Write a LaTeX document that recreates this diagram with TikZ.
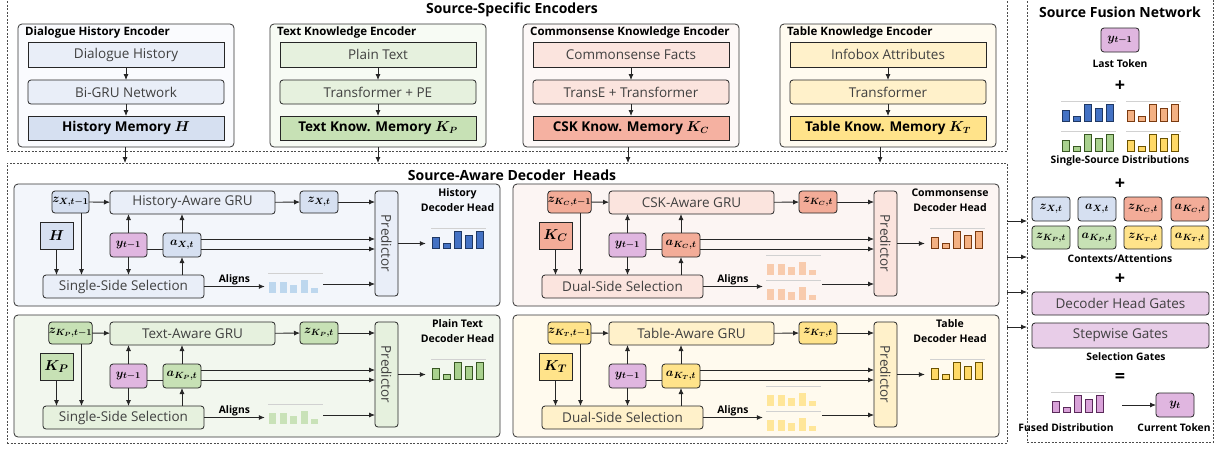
\documentclass[tikz,border=0pt]{standalone}
\usepackage{fontspec}
\setmainfont{Open Sans}
\usepackage{bm}
\usetikzlibrary{arrows.meta,calc}

% colour sets per source: Enc (encoder frame), Box, Mem, Z, Panel, Bar, Edge, Align
\definecolor{histEnc}{HTML}{FAFBFE}\definecolor{histBox}{HTML}{E9EEF8}
\definecolor{histMem}{HTML}{D6E0F1}\definecolor{histZ}{HTML}{D6E0F1}
\definecolor{histPanel}{HTML}{F3F6FB}\definecolor{histBar}{HTML}{4472C4}
\definecolor{histEdge}{HTML}{1F3864}\definecolor{histAlign}{HTML}{BDD7EE}
\definecolor{textEnc}{HTML}{F7FBF4}\definecolor{textBox}{HTML}{E6F1DE}
\definecolor{textMem}{HTML}{C7E1B5}\definecolor{textZ}{HTML}{C7E1B5}
\definecolor{textPanel}{HTML}{F2F7EE}\definecolor{textBar}{HTML}{A9D18E}
\definecolor{textEdge}{HTML}{385723}\definecolor{textAlign}{HTML}{C9E2B8}
\definecolor{cskEnc}{HTML}{FDF8F7}\definecolor{cskBox}{HTML}{FBE4DE}
\definecolor{cskMem}{HTML}{F5B1A1}\definecolor{cskZ}{HTML}{F3AC98}
\definecolor{cskPanel}{HTML}{FCF5F3}\definecolor{cskBar}{HTML}{F4B183}
\definecolor{cskEdge}{HTML}{7A3A10}\definecolor{cskAlign}{HTML}{F8CBAD}
\definecolor{tabEnc}{HTML}{FFFBF0}\definecolor{tabBox}{HTML}{FFF1CA}
\definecolor{tabMem}{HTML}{FFE38A}\definecolor{tabZ}{HTML}{FFE38A}
\definecolor{tabPanel}{HTML}{FFFAEE}\definecolor{tabBar}{HTML}{FFD966}
\definecolor{tabEdge}{HTML}{6B5200}\definecolor{tabAlign}{HTML}{FFE699}
\definecolor{ypurple}{HTML}{E0B6E0}\definecolor{gatefill}{HTML}{E8CDE8}
\definecolor{fusedBar}{HTML}{D9A2D9}\definecolor{fusedEdge}{HTML}{5A2A5A}
\definecolor{softtext}{HTML}{404040}

\tikzset{
  arr/.style={-{Latex[length=6pt,width=5pt]}, line width=0.8pt, draw=black!85},
  plainline/.style={line width=0.8pt, draw=black!85},
  bx/.style={draw=black!85, line width=0.8pt, inner sep=0pt, outer sep=0pt,
    font=\fontsize{13.5}{15}\selectfont, text=softtext},
  rbx/.style={bx, rounded corners=3pt},
  panelbox/.style={draw=black!80, line width=0.8pt, rounded corners=4pt, inner sep=0pt, outer sep=0pt},
  dashpanel/.style={draw=black!70, line width=0.7pt, dash pattern=on 2pt off 1.5pt, inner sep=0pt, outer sep=0pt},
  boxtext/.style={font=\fontsize{13.5}{15}\selectfont, text=softtext, inner sep=0pt},
  bigtitle/.style={font=\bfseries\fontsize{14}{16}\selectfont, inner sep=0pt},
  enctitle/.style={font=\bfseries\fontsize{11.5}{13}\selectfont, inner sep=0pt},
  headlabel/.style={font=\bfseries\fontsize{10.5}{14.5}\selectfont, align=center, inner sep=0pt},
  smalllabel/.style={font=\bfseries\fontsize{10.3}{12}\selectfont, inner sep=0pt},
  plus/.style={font=\bfseries\fontsize{18}{19}\selectfont, inner sep=0pt},
  gridline/.style={draw=black!18, line width=0.8pt},
}

% box given by its corners: style, name, x1, y1, x2, y2, text
\newcommand{\cbox}[7]{\node[#1, minimum width={(#5)-(#3)}, minimum height={(#6)-(#4)}]
  (#2) at ({((#3)+(#5))/2},{((#4)+(#6))/2}) {#7};}
\newcommand{\mathlbl}[1]{{\fontsize{12.5}{13}\selectfont$\bm{#1}$}}
\newcommand{\memlbl}[1]{{\fontsize{13.5}{14}\selectfont$\bm{#1}$}}
\newcommand{\biglbl}[1]{{\fontsize{15}{16}\selectfont$\bm{#1}$}}

% five-bar distribution with border: x0, ybottom, fill, edge
\newcommand{\distbars}[4]{%
  \draw[gridline] ({#1-1},{#2-20}) -- ({#1+54},{#2-20});
  \foreach \h [count=\i from 0] in {11,5,17,13,17}
    \filldraw[fill=#3, draw=#4, line width=0.7pt] ({#1+\i*11},#2) rectangle ++(7,-\h);}
% alignment bars without border: x0, ybottom, fill
\newcommand{\alignbars}[3]{%
  \draw[gridline] ({#1-1},{#2-20}) -- ({#1+54},{#2-20});
  \foreach \h [count=\i from 0] in {11,11,8,13,5}
    \fill[#3] ({#1+\i*10.5},#2) rectangle ++(7,-\h);}

% encoder: name, centre x, colour key, title, input, network, memory, exit shift
\newcommand{\encoder}[8]{%
\begin{scope}[shift={(#2,0)}]
  \cbox{panelbox, fill=#3Enc}{#1}{-108}{24}{108}{147}{}
  \node[enctitle, anchor=west] (#1title) at (-101,33) {#4};
  \cbox{bx, fill=#3Box}{#1in}{-98}{42}{98}{67}{#5}
  \cbox{rbx, fill=#3Box}{#1net}{-98}{80}{98}{104}{#6}
  \cbox{bx, fill=#3Mem, text=black, font=\bfseries\fontsize{13.5}{15}\selectfont}{#1mem}{-98}{116}{98}{140}{#7}
  \draw[arr] (#1in) -- (#1net);
  \draw[arr] (#1net) -- (#1mem);
  \draw[arr] ([xshift=#8pt]#1.south) -- ([xshift=#8pt]#1.south |- decpanel.north);
\end{scope}}

% decoder head: prefix, dx, dy, colour key, subscript, GRU text, selection text, memory symbol
\newcommand{\dechead}[8]{%
\begin{scope}[shift={(#2,#3)}]
  \cbox{panelbox, fill=#4Panel}{#1panel}{14}{184}{500}{306}{}
  \cbox{rbx, fill=#4Z, text=black}{#1zp}{52}{191}{89}{213}{\mathlbl{z_{#5,t-1}}}
  \cbox{rbx, fill=#4Box}{#1gru}{110}{191}{275}{214}{#6}
  \cbox{rbx, fill=#4Z, text=black}{#1zc}{300}{191}{338}{213}{\mathlbl{z_{#5,t}}}
  \cbox{rbx, fill=#4Box}{#1pred}{375}{191}{398}{296}{}
  \node[boxtext, rotate=-90] (#1predtext) at (#1pred) {Predictor};
  \cbox{bx, fill=#4Z, text=black}{#1kn}{40}{222}{73}{249}{\biglbl{#8}}
  \cbox{rbx, fill=ypurple, text=black}{#1y}{110}{233}{147}{257}{\mathlbl{y_{t-1}}}
  \cbox{rbx, fill=#4Z, text=black}{#1a}{163}{233}{201}{257}{\mathlbl{a_{#5,t}}}
  \cbox{rbx, fill=#4Box}{#1sel}{43}{275}{204}{298}{#7}
  \node[inner sep=0pt, minimum width=58, minimum height=22] (#1dist) at (455,238) {};
  \distbars{432}{248}{#4Bar}{#4Edge}
  \draw[arr] (#1zp) -- (#1gru);
  \draw[arr] (#1gru) -- (#1zc);
  \draw[arr] (#1zc.east) -- (#1zc.east -| #1pred.west);
  \draw[arr] (#1y.north) -- (#1y.north |- #1gru.south);
  \draw[arr] (#1a.north) -- (#1a.north |- #1gru.south);
  \draw[arr] (#1y.south) -- (#1y.south |- #1sel.north);
  \draw[arr] (#1a.south |- #1sel.north) -- (#1a.south);
  \draw[arr] (#1kn.south) -- (#1kn.south |- #1sel.north);
  \draw[arr] (#1zp.-45) -- (#1zp.-45 |- #1sel.north);
  \draw[plainline] ([yshift=-4pt]#1y.east) -- ([yshift=-4pt]#1y.east -| #1a.west);
  \draw[arr] ([yshift=-4pt]#1a.east) -- ([yshift=-4pt]#1a.east -| #1pred.west);
  \draw[arr] ([yshift=6pt]#1a.east) -- ([yshift=6pt]#1a.east -| #1pred.west);
  \draw[arr] (#1pred.east) -- (#1pred.east -| #1dist.west);
\end{scope}}

\begin{document}
\begin{tikzpicture}[x=1pt, y=-1pt]
  \useasboundingbox (0,0) rectangle (1223,448);
  \fill[white] (0,0) rectangle (1223,448);

  % dashed group frames
  \cbox{dashpanel}{encpanel}{7}{-2}{1007}{151}{}
  \cbox{dashpanel}{decpanel}{7}{163}{1007}{443}{}
  \cbox{dashpanel}{fusion}{1027}{-2}{1213}{442}{}
  \node[bigtitle] (enctitle) at (512,10) {Source-Specific Encoders};
  \node[bigtitle] (dectitle) at (512,175) {Source-Aware Decoder\ \ Heads};
  \node[bigtitle] (fustitle) at (1120,12) {Source Fusion Network};

  % encoders
  \encoder{ench}{126}{hist}{Dialogue History Encoder}{Dialogue History}{Bi-GRU Network}{History Memory \memlbl{H}}{-1}
  \encoder{encp}{378}{text}{Text Knowledge Encoder}{Plain Text}{Transformer + PE}{Text Know. Memory \memlbl{K_P}}{0}
  \encoder{encc}{631}{csk}{Commonsense Knowledge Encoder}{Commonsense Facts}{TransE + Transformer}{CSK Know. Memory \memlbl{K_C}}{-3}
  \encoder{enct}{888}{tab}{Table Knowledge Encoder}{Infobox Attributes}{Transformer}{Table Know. Memory \memlbl{K_T}}{-8}

  % decoder heads
  \dechead{h}{0}{0}{hist}{X}{History-Aware GRU}{Single-Side Selection}{H}
  \dechead{c}{499}{0}{csk}{K_C}{CSK-Aware GRU}{Dual-Side Selection}{K_C}
  \dechead{p}{0}{131}{text}{K_P}{Text-Aware GRU}{Single-Side Selection}{K_P}
  \dechead{t}{499}{131}{tab}{K_T}{Table-Aware GRU}{Dual-Side Selection}{K_T}
  \node[headlabel] (hlab) at (457.5,200) {History\\Decoder Head};
  \node[headlabel] (clab) at (950,200) {Commonsense\\Decoder Head};
  \node[headlabel] (plab) at (457.5,331) {Plain Text\\Decoder Head};
  \node[headlabel] (tlab) at (950,331) {Table\\Decoder Head};

  % alignment distributions: single-side heads
  \foreach \pre/\dy/\key in {h/0/hist, p/131/text}{
    \begin{scope}[shift={(0,\dy)}]
      \node[inner sep=0pt, minimum width=58, minimum height=22] (\pre al) at (294,284) {};
      \alignbars{269}{293}{\key Align}
      \draw[arr] (\pre sel.east) -- node[above=1pt, smalllabel] (\pre altext) {Aligns} (\pre sel.east -| \pre al.west);
      \draw[arr] (\pre al.east) -- (\pre al.east -| \pre pred.west);
    \end{scope}}
  % alignment distributions: dual-side heads
  \foreach \pre/\dy/\key in {c/0/csk, t/131/tab}{
    \begin{scope}[shift={(0,\dy)}]
      \node[inner sep=0pt, minimum width=59, minimum height=40] (\pre al) at (792.5,284) {};
      \alignbars{767}{275}{\key Align}
      \alignbars{767}{300}{\key Align}
      \draw[arr] (\pre sel.east) -- node[above=1pt, smalllabel] (\pre altext) {Aligns} (\pre sel.east -| \pre al.west);
      \draw[arr] (\pre al.east) -- (\pre al.east -| \pre pred.west);
    \end{scope}}

  % hand-over to the fusion network
  \foreach \yy in {221,257,292,327}
    \draw[arr] (decpanel.east |- 0,\yy) -- (fusion.west |- 0,\yy);

  % source fusion network
  \cbox{rbx, fill=ypurple, text=black}{fy}{1101}{28}{1139}{52}{\mathlbl{y_{t-1}}}
  \node[smalllabel] (flast) at (1120,64) {Last Token};
  \node[plus] (fplusa) at (1120,86) {+};
  \distbars{1062}{121}{histBar}{histEdge}
  \distbars{1127}{121}{cskBar}{cskEdge}
  \distbars{1062}{151}{textBar}{textEdge}
  \distbars{1127}{151}{tabBar}{tabEdge}
  \node[smalllabel] (fsingle) at (1120,161) {Single-Source Distributions};
  \node[plus] (fplusb) at (1120,184) {+};
  \cbox{rbx, fill=histZ, text=black}{fzx}{1032}{197}{1070}{221}{\mathlbl{z_{X,t}}}
  \cbox{rbx, fill=histZ, text=black}{fax}{1078}{197}{1116}{221}{\mathlbl{a_{X,t}}}
  \cbox{rbx, fill=cskZ, text=black}{fzc}{1124}{197}{1162}{221}{\mathlbl{z_{K_C,t}}}
  \cbox{rbx, fill=cskZ, text=black}{fac}{1171}{197}{1209}{221}{\mathlbl{a_{K_C,t}}}
  \cbox{rbx, fill=textZ, text=black}{fzp}{1032}{226}{1070}{249}{\mathlbl{z_{K_P,t}}}
  \cbox{rbx, fill=textZ, text=black}{fap}{1078}{226}{1116}{249}{\mathlbl{a_{K_P,t}}}
  \cbox{rbx, fill=tabZ, text=black}{fzt}{1124}{226}{1162}{249}{\mathlbl{z_{K_T,t}}}
  \cbox{rbx, fill=tabZ, text=black}{fat}{1171}{226}{1209}{249}{\mathlbl{a_{K_T,t}}}
  \node[smalllabel] (fctx) at (1120,259) {Contexts/Attentions};
  \node[plus] (fplusc) at (1120,279) {+};
  \cbox{rbx, fill=gatefill}{fdhg}{1032}{292}{1209}{315}{Decoder Head Gates}
  \cbox{rbx, fill=gatefill}{fsg}{1032}{323}{1209}{348}{Stepwise Gates}
  \node[smalllabel] (fselg) at (1126,357) {Selection Gates};
  \node[plus] (feq) at (1120,378) {=};
  \distbars{1052}{412}{fusedBar}{fusedEdge}
  \coordinate (fout) at (1122,405);
  \cbox{rbx, fill=ypurple, text=black}{fyt}{1156}{393}{1194}{417}{\mathlbl{y_t}}
  \draw[arr] (fout) -- (fyt.west);
  \node[smalllabel] (ffused) at (1066,428) {Fused Distribution};
  \node[smalllabel] (fcur) at (1174,428) {Current Token};
\end{tikzpicture}
\end{document}
